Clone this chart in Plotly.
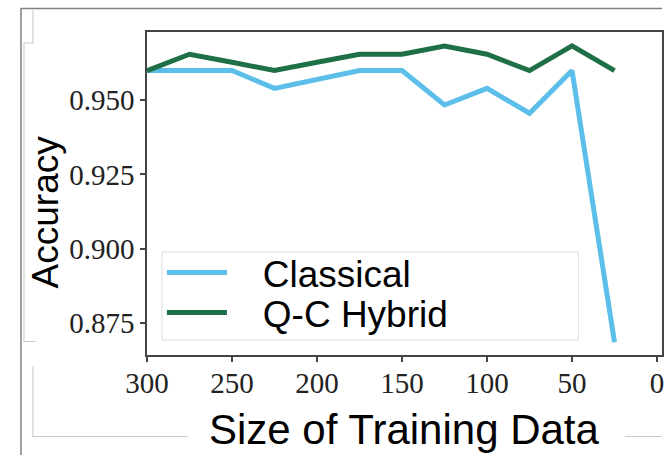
import plotly.graph_objects as go

# ---- data ----
train_size = [300, 275, 250, 225, 200, 175, 150, 125, 100, 75, 50, 25]
classical = [0.960, 0.960, 0.960, 0.954, 0.957, 0.960, 0.960, 0.9484, 0.954, 0.9456, 0.960, 0.8684]
hybrid = [0.960, 0.9655, 0.9628, 0.960, 0.9628, 0.9655, 0.9655, 0.9683, 0.9655, 0.960, 0.9683, 0.960]
series_names = ["\u00a0\u00a0\u00a0Classical", "\u00a0\u00a0\u00a0Q-C Hybrid"]
x_ticks = [300, 250, 200, 150, 100, 50, 0]
y_ticks = [0.875, 0.900, 0.925, 0.950]
y_tick_text = ["0.875", "0.900", "0.925", "0.950"]

W, H = 664, 455
ML, MR, MT = 147, 0, 32
MB = H - 355
PW, PH = W - ML - MR, H - MT - MB


def px(x):  # window pixel -> paper x
    return (x - ML) / PW


def py(y):  # window pixel -> paper y
    return (H - MB - y) / PH


fig = go.Figure()
fig.add_trace(go.Scatter(x=train_size, y=classical, mode="lines", name=series_names[0],
                         line=dict(color="#5BBFEA", width=5), legend="legend"))
fig.add_trace(go.Scatter(x=train_size, y=hybrid, mode="lines", name=series_names[1],
                         line=dict(color="#1F6F47", width=5), legend="legend2"))

shapes = []


def seg(x0, y0, x1, y1, color, width):
    shapes.append(dict(type="line", xref="paper", yref="paper",
                       x0=px(x0), y0=py(y0), x1=px(x1), y1=py(y1),
                       line=dict(color=color, width=width), layer="below"))


# frame artifacts of the source slide
seg(20, 8.5, 664, 8.5, "#808080", 1.5)
seg(20.5, 8.5, 20.5, 455, "#808080", 1.5)
seg(32.5, 10, 32.5, 43, "#C8C8C8", 1)
seg(23, 43, 33, 43, "#C8C8C8", 1)
seg(23.5, 43, 23.5, 341.5, "#C8C8C8", 1)
seg(23, 341.5, 35, 341.5, "#C8C8C8", 1)
seg(32.5, 366, 32.5, 436.5, "#C8C8C8", 1)
seg(32, 436.5, 188, 436.5, "#C8C8C8", 1)
seg(627, 436.5, 664, 436.5, "#C8C8C8", 1)

# legend frame
shapes.append(dict(type="rect", xref="paper", yref="paper",
                   x0=px(162), y0=py(340), x1=px(580), y1=py(252),
                   fillcolor="white", line=dict(color="#DDDDDD", width=1), layer="below"))

annotations = [
    dict(text="Accuracy", xref="paper", yref="paper", x=px(45), y=py(212),
         xanchor="center", yanchor="middle", textangle=-90, showarrow=False,
         font=dict(family="Liberation Sans, Arial, sans-serif", size=37, color="black")),
    dict(text="Size of Training Data", xref="paper", yref="paper", x=px(405), y=py(429),
         xanchor="center", yanchor="middle", showarrow=False,
         font=dict(family="Liberation Sans, Arial, sans-serif", size=42, color="black")),
]

tick_font = dict(family="Liberation Serif, Times New Roman, serif", size=29, color="#222222")
leg_font = dict(family="Liberation Sans, Arial, sans-serif", size=37, color="black")

fig.update_layout(
    width=W, height=H,
    margin=dict(l=ML, r=MR, t=MT, b=MB, pad=0),
    paper_bgcolor="white", plot_bgcolor="white",
    showlegend=True,
    legend=dict(x=px(162), y=py(273), xanchor="left", yanchor="middle",
                bgcolor="rgba(0,0,0,0)", borderwidth=0, font=leg_font, itemwidth=60),
    legend2=dict(x=px(162), y=py(313), xanchor="left", yanchor="middle",
                 bgcolor="rgba(0,0,0,0)", borderwidth=0, font=leg_font, itemwidth=60),
    xaxis=dict(range=[300, 300 - PW * 300 / 512], tickvals=x_ticks,
               ticks="outside", ticklen=5, tickwidth=1.5, tickcolor="#444444",
               showgrid=False, zeroline=False, showline=True, linecolor="#444444",
               linewidth=1.5, mirror=True, tickfont=tick_font, ticklabeloverflow="allow",
               ticklabelstandoff=-4),
    yaxis=dict(range=[0.8641, 0.9730], tickvals=y_ticks, ticktext=y_tick_text,
               ticks="outside", ticklen=5, tickwidth=1.5, tickcolor="#444444",
               showgrid=False, zeroline=False, showline=True, linecolor="#444444",
               linewidth=1.5, mirror=True, tickfont=tick_font, ticklabelstandoff=0),
    shapes=shapes,
    annotations=annotations,
)

fig.write_html("out.html", config={"displayModeBar": False},
               post_script="document.body.style.margin='0';document.body.style.overflow='hidden';")
